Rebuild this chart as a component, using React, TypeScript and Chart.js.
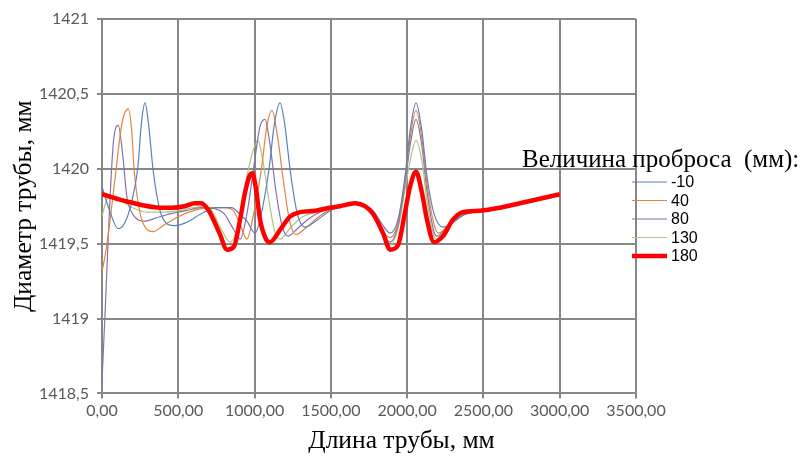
import React, { useEffect, useRef } from 'react';
import { Chart, registerables } from 'chart.js';

Chart.register(...registerables);

// ---- Data ----
const seriesLabels = ['-10', '40', '80', '130', '180'];
const seriesColors = ['#5b80b9', '#e5833c', '#8a70a9', '#a9c784', '#ff0000'];
const seriesWidths = [1.2, 1.2, 1.2, 1.2, 4.5];

const xNeg10 = [0, 50, 105, 150, 190, 234, 260, 282, 305, 334, 380, 430, 478, 550, 650, 750, 850, 900, 950, 1003, 1040, 1095, 1130, 1167, 1200, 1232, 1280, 1330, 1400, 1480, 1560, 1658, 1723, 1776, 1842, 1888, 1940, 1986, 2019, 2058, 2097, 2130, 2176, 2235, 2300, 2366, 2477];
const yNeg10 = [1419.88, 1419.72, 1419.60, 1419.64, 1419.76, 1420.00, 1420.32, 1420.44, 1420.30, 1420.00, 1419.72, 1419.63, 1419.62, 1419.64, 1419.70, 1419.74, 1419.74, 1419.70, 1419.65, 1419.57, 1419.68, 1420.00, 1420.30, 1420.44, 1420.28, 1420.00, 1419.70, 1419.61, 1419.65, 1419.71, 1419.75, 1419.77, 1419.75, 1419.72, 1419.62, 1419.57, 1419.66, 1419.95, 1420.25, 1420.44, 1420.25, 1419.95, 1419.70, 1419.61, 1419.64, 1419.69, 1419.72];

const x40 = [0, 30, 85, 130, 172, 195, 210, 250, 290, 336, 400, 500, 600, 700, 800, 860, 905, 950, 990, 1045, 1080, 1114, 1150, 1185, 1230, 1271, 1330, 1420, 1500, 1560, 1658, 1723, 1776, 1842, 1888, 1940, 1986, 2019, 2058, 2097, 2130, 2176, 2205, 2270, 2366, 2477];
const y40 = [1419.31, 1419.48, 1419.93, 1420.30, 1420.40, 1420.25, 1420.00, 1419.70, 1419.60, 1419.58, 1419.62, 1419.68, 1419.72, 1419.74, 1419.74, 1419.72, 1419.63, 1419.53, 1419.68, 1420.00, 1420.28, 1420.39, 1420.22, 1419.95, 1419.65, 1419.56, 1419.60, 1419.68, 1419.73, 1419.75, 1419.77, 1419.75, 1419.71, 1419.58, 1419.54, 1419.64, 1419.93, 1420.20, 1420.39, 1420.20, 1419.90, 1419.63, 1419.57, 1419.62, 1419.69, 1419.72];

const x80 = [0, 25, 50, 75, 107, 135, 162, 200, 282, 350, 450, 550, 650, 750, 800, 860, 905, 950, 1000, 1035, 1068, 1100, 1140, 1180, 1219, 1280, 1360, 1450, 1560, 1658, 1723, 1776, 1842, 1888, 1940, 1986, 2019, 2058, 2097, 2130, 2176, 2195, 2260, 2366, 2477];
const y80 = [1418.58, 1419.15, 1419.75, 1420.18, 1420.29, 1420.10, 1419.82, 1419.70, 1419.65, 1419.67, 1419.70, 1419.72, 1419.74, 1419.73, 1419.70, 1419.60, 1419.53, 1419.70, 1420.05, 1420.28, 1420.33, 1420.17, 1419.85, 1419.62, 1419.55, 1419.60, 1419.67, 1419.72, 1419.75, 1419.77, 1419.75, 1419.71, 1419.56, 1419.51, 1419.62, 1419.90, 1420.15, 1420.33, 1420.15, 1419.85, 1419.58, 1419.55, 1419.61, 1419.69, 1419.72];

const x130 = [0, 20, 50, 120, 200, 300, 400, 500, 600, 680, 720, 780, 840, 890, 940, 990, 1022, 1055, 1100, 1135, 1167, 1230, 1300, 1400, 1480, 1560, 1658, 1723, 1776, 1842, 1888, 1940, 1986, 2019, 2058, 2097, 2130, 2176, 2190, 2250, 2366, 2477];
const y130 = [1419.68, 1419.76, 1419.82, 1419.79, 1419.74, 1419.71, 1419.71, 1419.72, 1419.74, 1419.75, 1419.72, 1419.60, 1419.51, 1419.62, 1419.90, 1420.12, 1420.19, 1420.05, 1419.75, 1419.57, 1419.53, 1419.60, 1419.67, 1419.71, 1419.73, 1419.75, 1419.77, 1419.75, 1419.71, 1419.55, 1419.49, 1419.60, 1419.86, 1420.05, 1420.19, 1420.05, 1419.78, 1419.55, 1419.53, 1419.60, 1419.69, 1419.72];

const x180 = [0, 170, 390, 460, 540, 610, 650, 700, 770, 820, 865, 905, 937, 970, 985, 1010, 1036, 1075, 1101, 1166, 1232, 1298, 1400, 1494, 1560, 1658, 1723, 1776, 1842, 1888, 1940, 1986, 2019, 2058, 2097, 2130, 2176, 2235, 2300, 2366, 2477, 2608, 2739, 2870, 3000];
const y180 = [1419.83, 1419.78, 1419.74, 1419.74, 1419.75, 1419.77, 1419.77, 1419.72, 1419.57, 1419.46, 1419.48, 1419.66, 1419.84, 1419.96, 1419.97, 1419.86, 1419.66, 1419.53, 1419.51, 1419.59, 1419.68, 1419.71, 1419.72, 1419.74, 1419.75, 1419.77, 1419.75, 1419.70, 1419.57, 1419.46, 1419.49, 1419.71, 1419.88, 1419.98, 1419.84, 1419.66, 1419.51, 1419.55, 1419.66, 1419.71, 1419.72, 1419.74, 1419.77, 1419.80, 1419.83];

const seriesX = [xNeg10, x40, x80, x130, x180];
const seriesY = [yNeg10, y40, y80, y130, y180];

const xMin = 0, xMax = 3500, xStep = 500;
const yMin = 1418.5, yMax = 1421, yStep = 0.5;

const xTitle = 'Длина трубы, мм';
const yTitle = 'Диаметр трубы, мм';
const legendTitle = 'Величина проброса  (мм):';

const SERIF = '"Liberation Serif", "Times New Roman", serif';
const TICK_FONT = 'Lato, "Open Sans", sans-serif';
const GRID = '#878787';

const sideLegend = {
  id: 'sideLegend',
  afterDraw(chart: any) {
    const { ctx, chartArea } = chart;
    const r = chartArea.right;
    ctx.save();
    ctx.fillStyle = '#000';
    ctx.textAlign = 'left';
    ctx.textBaseline = 'alphabetic';
    ctx.font = `25px ${SERIF}`;
    ctx.fillText(legendTitle, r - 114, chartArea.top + 148);
    ctx.font = '16px "Liberation Sans", Arial, sans-serif';
    ctx.textBaseline = 'middle';
    chart.data.datasets.forEach((ds: any, i: number) => {
      const y = chartArea.top + 163 + i * 18.5;
      ctx.strokeStyle = ds.borderColor;
      ctx.lineWidth = ds.borderWidth;
      ctx.beginPath();
      ctx.moveTo(r - 4, y);
      ctx.lineTo(r + 31, y);
      ctx.stroke();
      ctx.fillStyle = '#000';
      ctx.fillText(ds.label, r + 35, y + 1);
    });
    ctx.restore();
  },
};

export default function App() {
  const ref = useRef<HTMLCanvasElement | null>(null);
  useEffect(() => {
    if (!ref.current) return;
    const datasets = seriesLabels.map((label, i) => ({
      label,
      data: seriesX[i].map((x, j) => ({ x, y: seriesY[i][j] })),
      borderColor: seriesColors[i],
      backgroundColor: seriesColors[i],
      borderWidth: seriesWidths[i],
      pointRadius: 0,
      fill: false,
      cubicInterpolationMode: 'monotone' as const,
      order: i === 4 ? 0 : 1,
    }));
    const chart = new Chart(ref.current, {
      type: 'line',
      data: { datasets },
      plugins: [sideLegend],
      options: {
        animation: false,
        responsive: false,
        devicePixelRatio: 1,
        layout: { padding: { top: 19, left: 0, right: 0, bottom: 0 } },
        plugins: {
          legend: { display: false },
          tooltip: { enabled: false },
          title: {
            display: true,
            position: 'bottom',
            text: xTitle,
            color: '#000',
            font: { family: SERIF, size: 25.5, weight: 'normal' },
            padding: { top: 0, bottom: 0 },
          },
        },
        scales: {
          x: {
            type: 'linear',
            min: xMin,
            max: xMax,
            ticks: {
              stepSize: xStep,
              color: '#595959',
              font: { family: TICK_FONT, size: 16 },
              padding: 3,
              maxRotation: 0,
              callback: (v: any) => Number(v).toFixed(2).replace('.', ','),
            },
            grid: { color: GRID, lineWidth: 2, tickLength: 5, drawTicks: true },
            border: { color: GRID, width: 2 },
            afterFit: (s: any) => { s.height = 33; },
          },
          y: {
            type: 'linear',
            min: yMin,
            max: yMax,
            ticks: {
              stepSize: yStep,
              color: '#595959',
              font: { family: TICK_FONT, size: 16 },
              padding: 8,
              callback: (v: any) => {
                const n = Number(v);
                return Number.isInteger(n) ? String(n) : n.toFixed(1).replace('.', ',');
              },
            },
            grid: { color: GRID, lineWidth: 2, tickLength: 5, drawTicks: true },
            border: { color: GRID, width: 2 },
            title: {
              display: true,
              text: yTitle,
              color: '#000',
              font: { family: SERIF, size: 25.5, weight: 'normal' },
              padding: { top: 9, bottom: 0 },
            },
            afterFit: (s: any) => { s.width = 102; },
          },
          yRight: {
            type: 'linear',
            position: 'right',
            display: true,
            ticks: { display: false },
            grid: { display: false, drawTicks: false },
            border: { display: false },
            afterFit: (s: any) => { s.width = 167; },
          },
        },
      },
    });
    return () => chart.destroy();
  }, []);

  return (
    <div style={{ position: 'absolute', left: 0, top: 0, width: 803, height: 457, background: '#fff' }}>
      <canvas ref={ref} width={803} height={457} style={{ display: 'block' }} />
    </div>
  );
}
